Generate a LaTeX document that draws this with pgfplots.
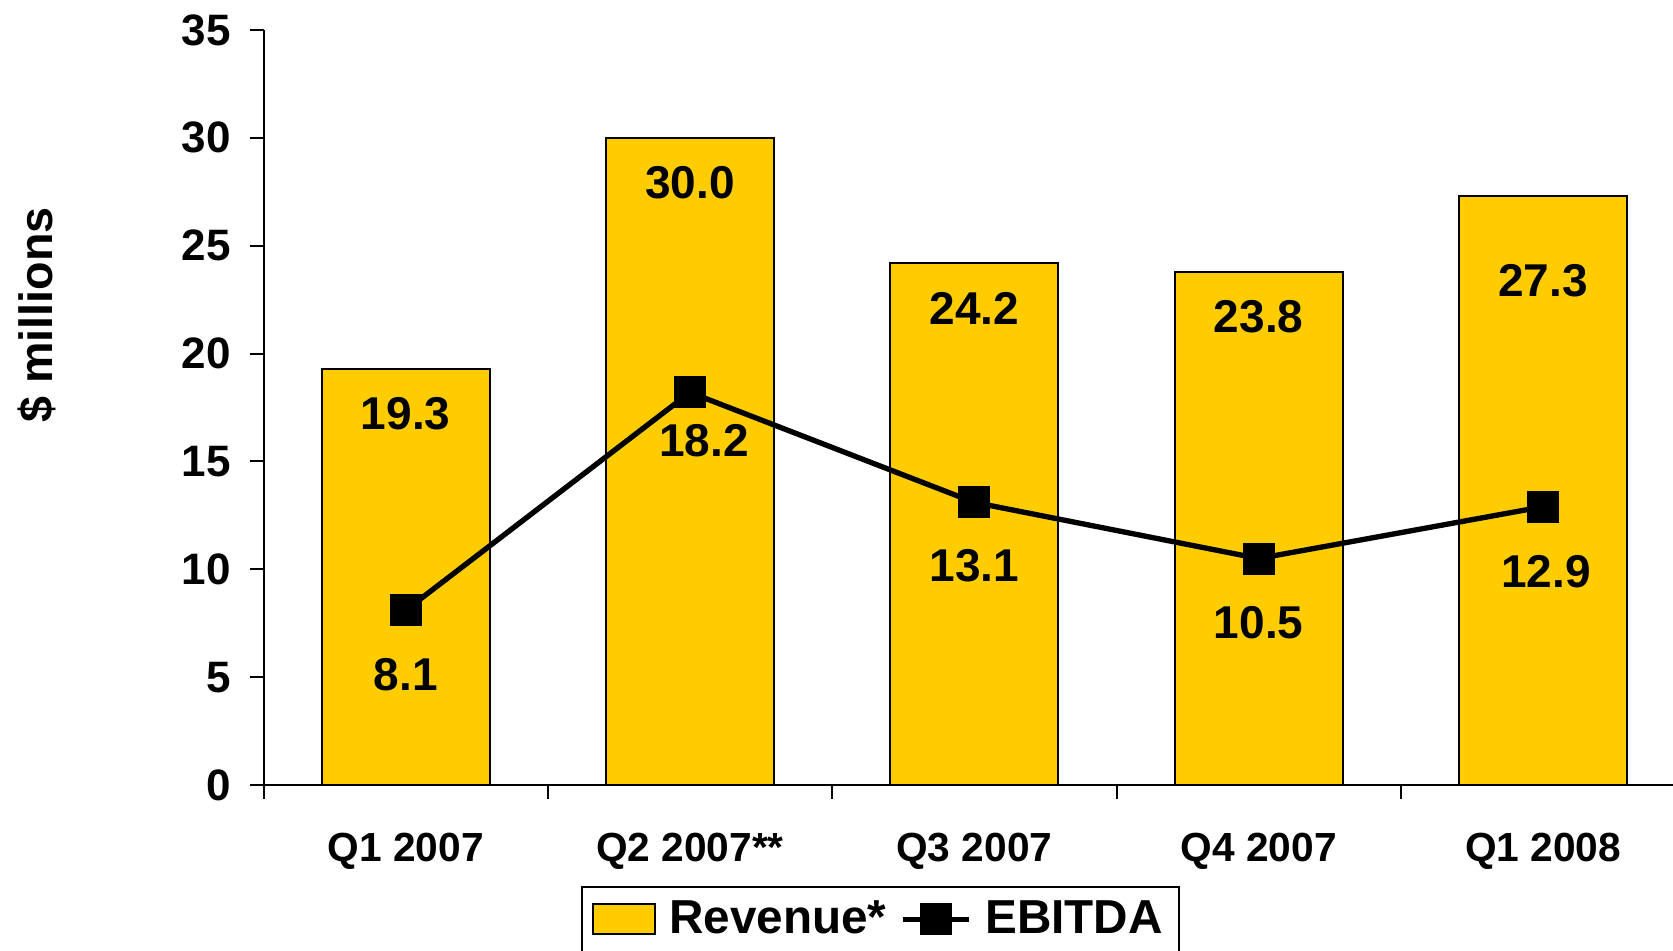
\documentclass[border=0pt]{standalone}
\usepackage{fontspec}
\setmainfont{Liberation Sans}
\usepackage{pgfplots}
\pgfplotsset{compat=1.18}
\usepackage{pgfplotstable}
\definecolor{revgold}{RGB}{255,204,0}

% revenue bars, label offset in pt
\pgfplotstableread{
x rev dy
0 19.3 -13.5
1 30.0 -13.5
2 24.2 -13.5
3 23.8 -13.5
4 27.3 -25.4
}\revenue

% EBITDA line, with label offsets in pt
\pgfplotstableread{
x ebitda dx dy
0 8.1 0 -19.2
1 18.2 4.2 -14.4
2 13.1 0 -18.9
3 10.5 0 -19.2
4 12.9 0.9 -19.5
}\ebitda

\pgfplotsset{
  barlegend/.style={legend image code/.code={\draw[##1] (0pt,-4.5pt) rectangle (18.6pt,4.5pt);\path (20.6pt,0pt);}},
  linelegend/.style={legend image code/.code={\draw[mark repeat=2,mark phase=2,##1] plot coordinates {(0pt,0pt)(9.9pt,0pt)(19.8pt,0pt)};\path (22pt,0pt);}},
}

\begin{document}
\begin{tikzpicture}
\begin{axis}[
  name=ax,
  at={(0,0)}, anchor=south west,
  scale only axis,
  width=426.5pt, height=226.5pt,
  xmin=-0.5, xmax=4.5, ymin=0, ymax=35,
  axis x line=bottom, axis y line=left,
  axis line style={-, line width=0.6pt},
  tick align=outside,
  major tick length=4.2pt,
  tick style={black, line width=0.6pt},
  ytick={0,5,...,35},
  xtick={-0.5,0.5,...,4.5},
  xticklabels={},
  extra x ticks={0,1,2,3,4},
  extra x tick labels={Q1 2007, Q2 2007**, Q3 2007, Q4 2007, Q1 2008},
  extra x tick style={major tick length=0pt,
    tick label style={anchor=center, yshift=-19.8pt,
      font=\fontsize{12.2}{14}\selectfont\bfseries}},
  yticklabel style={xshift=-2.1pt, font=\fontsize{13.2}{15}\selectfont\bfseries},
  /pgf/number format/assume math mode=true,
  ylabel={\$ millions},
  ylabel style={at={(axis description cs:-0.1593,0.6225)}, anchor=center,
    font=\fontsize{14}{16}\selectfont\bfseries},
  legend columns=2,
  legend style={at={(axis description cs:0.2233,-0.1338)}, anchor=north west,
    draw=black, line width=0.6pt,
    /tikz/every even column/.append style={column sep=2pt},
    font=\fontsize{14.3}{16}\selectfont\bfseries},
]
\addplot[ybar, bar width=50.4pt, fill=revgold, draw=black, line width=0.6pt,
  barlegend,
  visualization depends on={\thisrow{dy} \as \dy},
  nodes near coords={\pgfmathprintnumber[fixed,fixed zerofill,precision=1,assume math mode=true]{\pgfplotspointmeta}},
  nodes near coords style={anchor=center, yshift=\dy*1pt,
    font=\fontsize{13.8}{16}\selectfont\bfseries}]
  table[x=x,y=rev]{\revenue};
\addlegendentry{Revenue*}

\addplot[black, line width=1.6pt, mark=square*, mark size=4.5pt, mark options={solid, line width=0.6pt},
  linelegend,
  visualization depends on={\thisrow{dx} \as \dx},
  visualization depends on={\thisrow{dy} \as \dy},
  nodes near coords={\pgfmathprintnumber[fixed,fixed zerofill,precision=1,assume math mode=true]{\pgfplotspointmeta}},
  nodes near coords style={anchor=center, xshift=\dx*1pt, yshift=\dy*1pt,
    font=\fontsize{13.8}{16}\selectfont\bfseries}]
  table[x=x,y=ebitda]{\ebitda};
\addlegendentry{EBITDA}
\end{axis}
\pgfresetboundingbox
\path[use as bounding box] ([xshift=-79.05pt,yshift=-49.5pt]ax.south west) rectangle ++(501.9pt,285pt);
\end{tikzpicture}
\end{document}
